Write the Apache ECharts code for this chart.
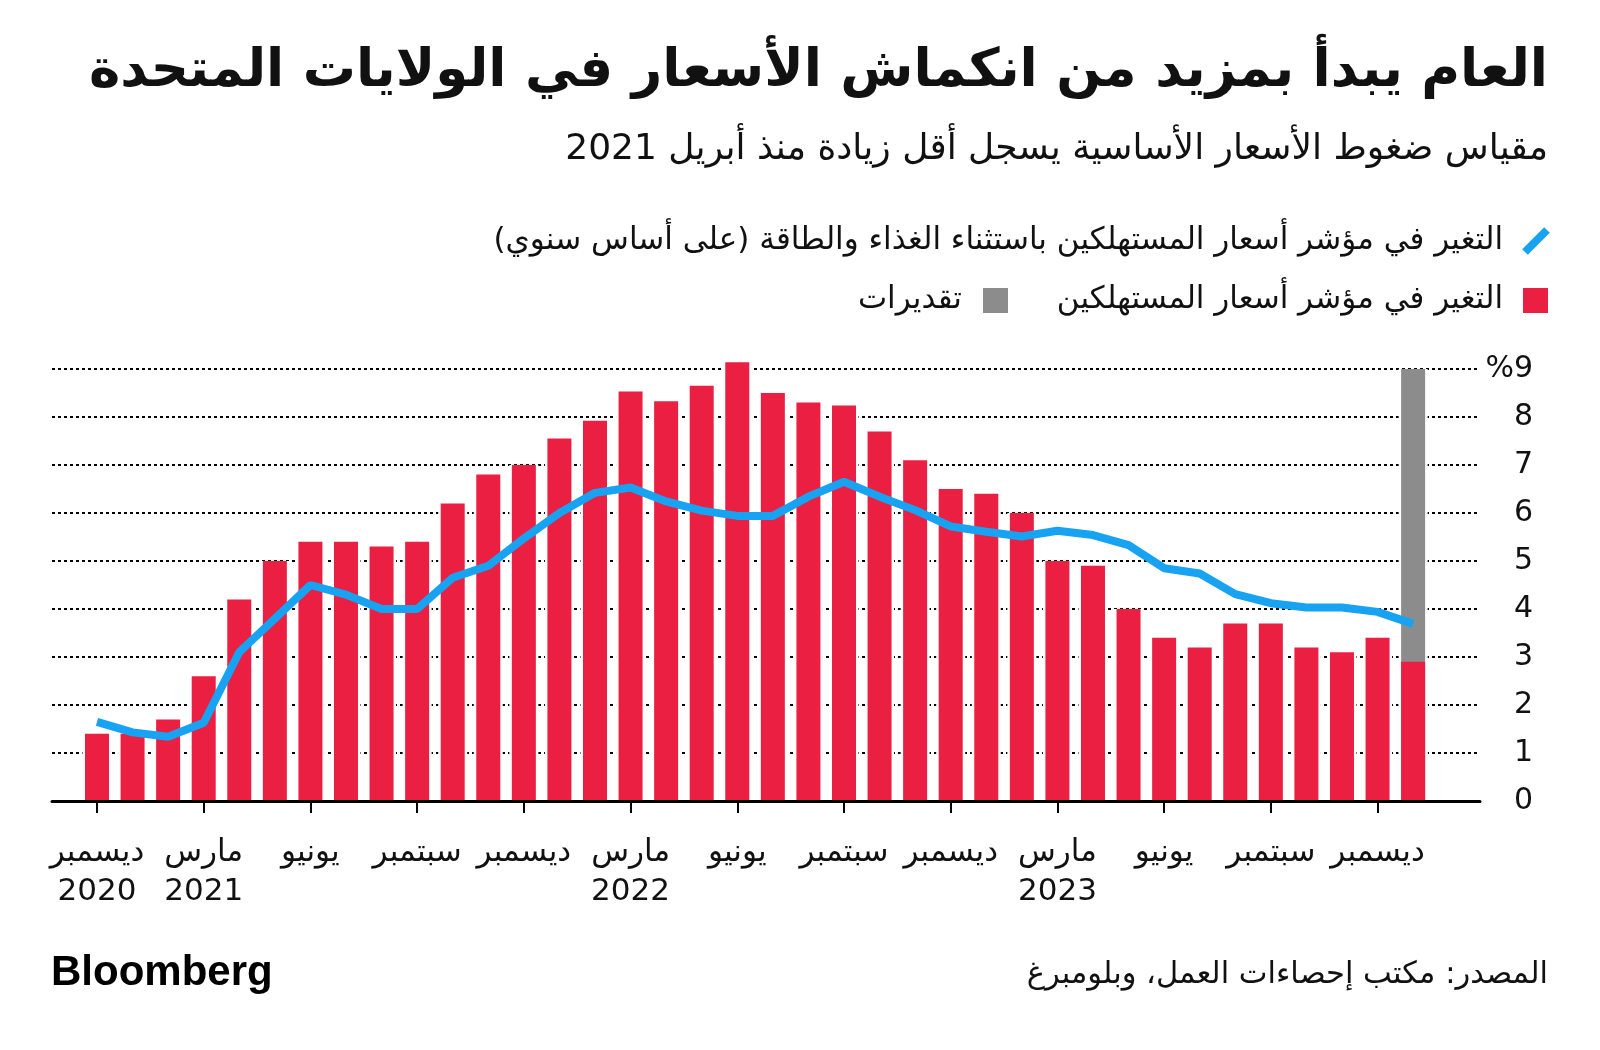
<!DOCTYPE html>
<html>
<head>
<meta charset="utf-8">
<script src="https://cdn.jsdelivr.net/npm/echarts@6/dist/echarts.min.js"></script>
<style>
html,body{margin:0;padding:0;background:#fff;}
#chart{position:absolute;left:0;top:0;width:1600px;height:1050px;}
</style>
</head>
<body>
<div id="chart" dir="rtl"></div>
<script>
// ---- data ----
// months from Dec 2020 (index 0) to Jan 2024 (index 37)
const cpi = [1.4,1.4,1.7,2.6,4.2,5.0,5.4,5.4,5.3,5.4,6.2,6.8,7.0,7.55,7.92,8.53,8.33,8.65,9.14,8.5,8.3,8.24,7.7,7.1,6.5,6.4,6.0,5.0,4.9,4.0,3.4,3.2,3.7,3.7,3.2,3.1,3.4,2.9];
const coreCpi = [1.65,1.43,1.34,1.63,3.1,3.8,4.5,4.3,4.0,4.0,4.65,4.9,5.47,6.0,6.42,6.53,6.24,6.05,5.94,5.94,6.34,6.65,6.34,6.06,5.72,5.61,5.51,5.63,5.54,5.33,4.85,4.74,4.31,4.12,4.03,4.03,3.94,3.69];
const estimateIndex = 37;
const estimateTop = 9;
const tickPositions = [0,3,6,9,12,15,18,21,24,27,30,33,36];
const tickLabels = ['ديسمبر\n2020','مارس\n2021','يونيو','سبتمبر','ديسمبر','مارس\n2022','يونيو','سبتمبر','ديسمبر','مارس\n2023','يونيو','سبتمبر','ديسمبر'];

const titleText = 'العام يبدأ بمزيد من انكماش الأسعار في الولايات المتحدة';
const subtitleText = 'مقياس ضغوط الأسعار الأساسية يسجل أقل زيادة منذ أبريل 2021';
const legendCore = 'التغير في مؤشر أسعار المستهلكين باستثناء الغذاء والطاقة (على أساس سنوي)';
const legendCpi = 'التغير في مؤشر أسعار المستهلكين';
const legendEst = 'تقديرات';
const sourceText = 'المصدر: مكتب إحصاءات العمل، وبلومبرغ';

const RED = '#EB1F41';
const BLUE = '#17A2F2';
const GRAY = '#8C8C8C';
const INK = '#111111';
const FONT = '"DejaVu Sans", "Noto Sans", sans-serif';

const X_MIN = -1.265, X_MAX = 38.88;

const cpiPoints = cpi.map((v, i) => [i, v]);
const estPoints = [[estimateIndex, estimateTop]];

const chart = echarts.init(document.getElementById('chart'), null, {renderer: 'canvas'});

const option = {
  backgroundColor: '#ffffff',
  animation: false,
  grid: {left: 52, right: 120, top: 369, bottom: 249, containLabel: false},
  xAxis: [{
    type: 'value',
    min: X_MIN,
    max: X_MAX,
    z: 10,
    axisLine: {show: true, onZero: false, lineStyle: {color: '#000', width: 3}},
    axisTick: {show: true, customValues: tickPositions, length: 12, lineStyle: {color: '#000', width: 2}},
    axisLabel: {
      customValues: tickPositions,
      formatter: function (v) { const k = tickPositions.indexOf(Math.round(v)); return k >= 0 ? tickLabels[k] : ''; },
      fontFamily: FONT, fontSize: 31, lineHeight: 39, margin: 32, color: INK
    },
    splitLine: {show: false}
  }, {
    // hidden twin axis used only to centre the white halo behind each bar
    type: 'value', min: X_MIN, max: X_MAX, show: false,
    axisLine: {show: false}, axisTick: {show: false}, axisLabel: {show: false}, splitLine: {show: false}
  }],
  yAxis: {
    type: 'value',
    position: 'right',
    min: 0, max: 9, interval: 1,
    axisLine: {show: false},
    axisTick: {show: false},
    splitLine: {show: true, lineStyle: {type: [3, 3], color: '#000', width: 2}},
    axisLabel: {
      align: 'right', margin: 53,
      formatter: function (v) { return v === 9 ? '%9' : String(v); },
      fontFamily: FONT, fontSize: 30, color: INK
    }
  },
  series: [
    {
      type: 'bar', xAxisIndex: 1, barWidth: 29, barGap: '-100%', silent: true, clip: false,
      itemStyle: {color: '#ffffff'}, data: cpiPoints, z: 1
    },
    {
      type: 'bar', xAxisIndex: 1, barWidth: 29, barGap: '-100%', silent: true, clip: false,
      itemStyle: {color: '#ffffff'}, data: estPoints, z: 1
    },
    {
      name: legendEst, type: 'bar', barWidth: 24, barGap: '-100%', clip: false,
      itemStyle: {color: GRAY},
      data: estPoints, z: 2
    },
    {
      name: legendCpi, type: 'bar', barWidth: 24, barGap: '-100%', clip: false,
      itemStyle: {color: RED},
      data: cpiPoints, z: 3
    },
    {
      name: legendCore, type: 'line', showSymbol: false, symbol: 'none', clip: false,
      lineStyle: {color: BLUE, width: 8},
      data: coreCpi.map((v, i) => [i, v]), z: 5
    }
  ],
  graphic: [
    {type: 'text', x: 1548, y: 72, style: {text: titleText, textAlign: 'right', textVerticalAlign: 'middle', font: 'bold 53px ' + FONT, fill: INK}},
    {type: 'text', x: 1548, y: 150, style: {text: subtitleText, textAlign: 'right', textVerticalAlign: 'middle', font: '36px ' + FONT, fill: INK}},
    {type: 'line', shape: {x1: 1525, y1: 252, x2: 1547, y2: 230}, style: {stroke: BLUE, lineWidth: 8}},
    {type: 'text', x: 1503, y: 241, style: {text: legendCore, textAlign: 'right', textVerticalAlign: 'middle', font: '31px ' + FONT, fill: INK}},
    {type: 'rect', shape: {x: 1523, y: 288, width: 25, height: 25}, style: {fill: RED}},
    {type: 'text', x: 1503, y: 300, style: {text: legendCpi, textAlign: 'right', textVerticalAlign: 'middle', font: '31px ' + FONT, fill: INK}},
    {type: 'rect', shape: {x: 983, y: 288, width: 25, height: 25}, style: {fill: GRAY}},
    {type: 'text', x: 962, y: 300, style: {text: legendEst, textAlign: 'right', textVerticalAlign: 'middle', font: '31px ' + FONT, fill: INK}},
    {type: 'text', x: 51, y: 973, style: {text: 'Bloomberg', textAlign: 'left', textVerticalAlign: 'middle', font: 'bold 42px "Liberation Sans", Arial, sans-serif', fill: '#000'}},
    {type: 'text', x: 1548, y: 975, style: {text: sourceText, textAlign: 'right', textVerticalAlign: 'middle', font: '30.5px ' + FONT, fill: INK}}
  ]
};
chart.setOption(option);
</script>
</body>
</html>
